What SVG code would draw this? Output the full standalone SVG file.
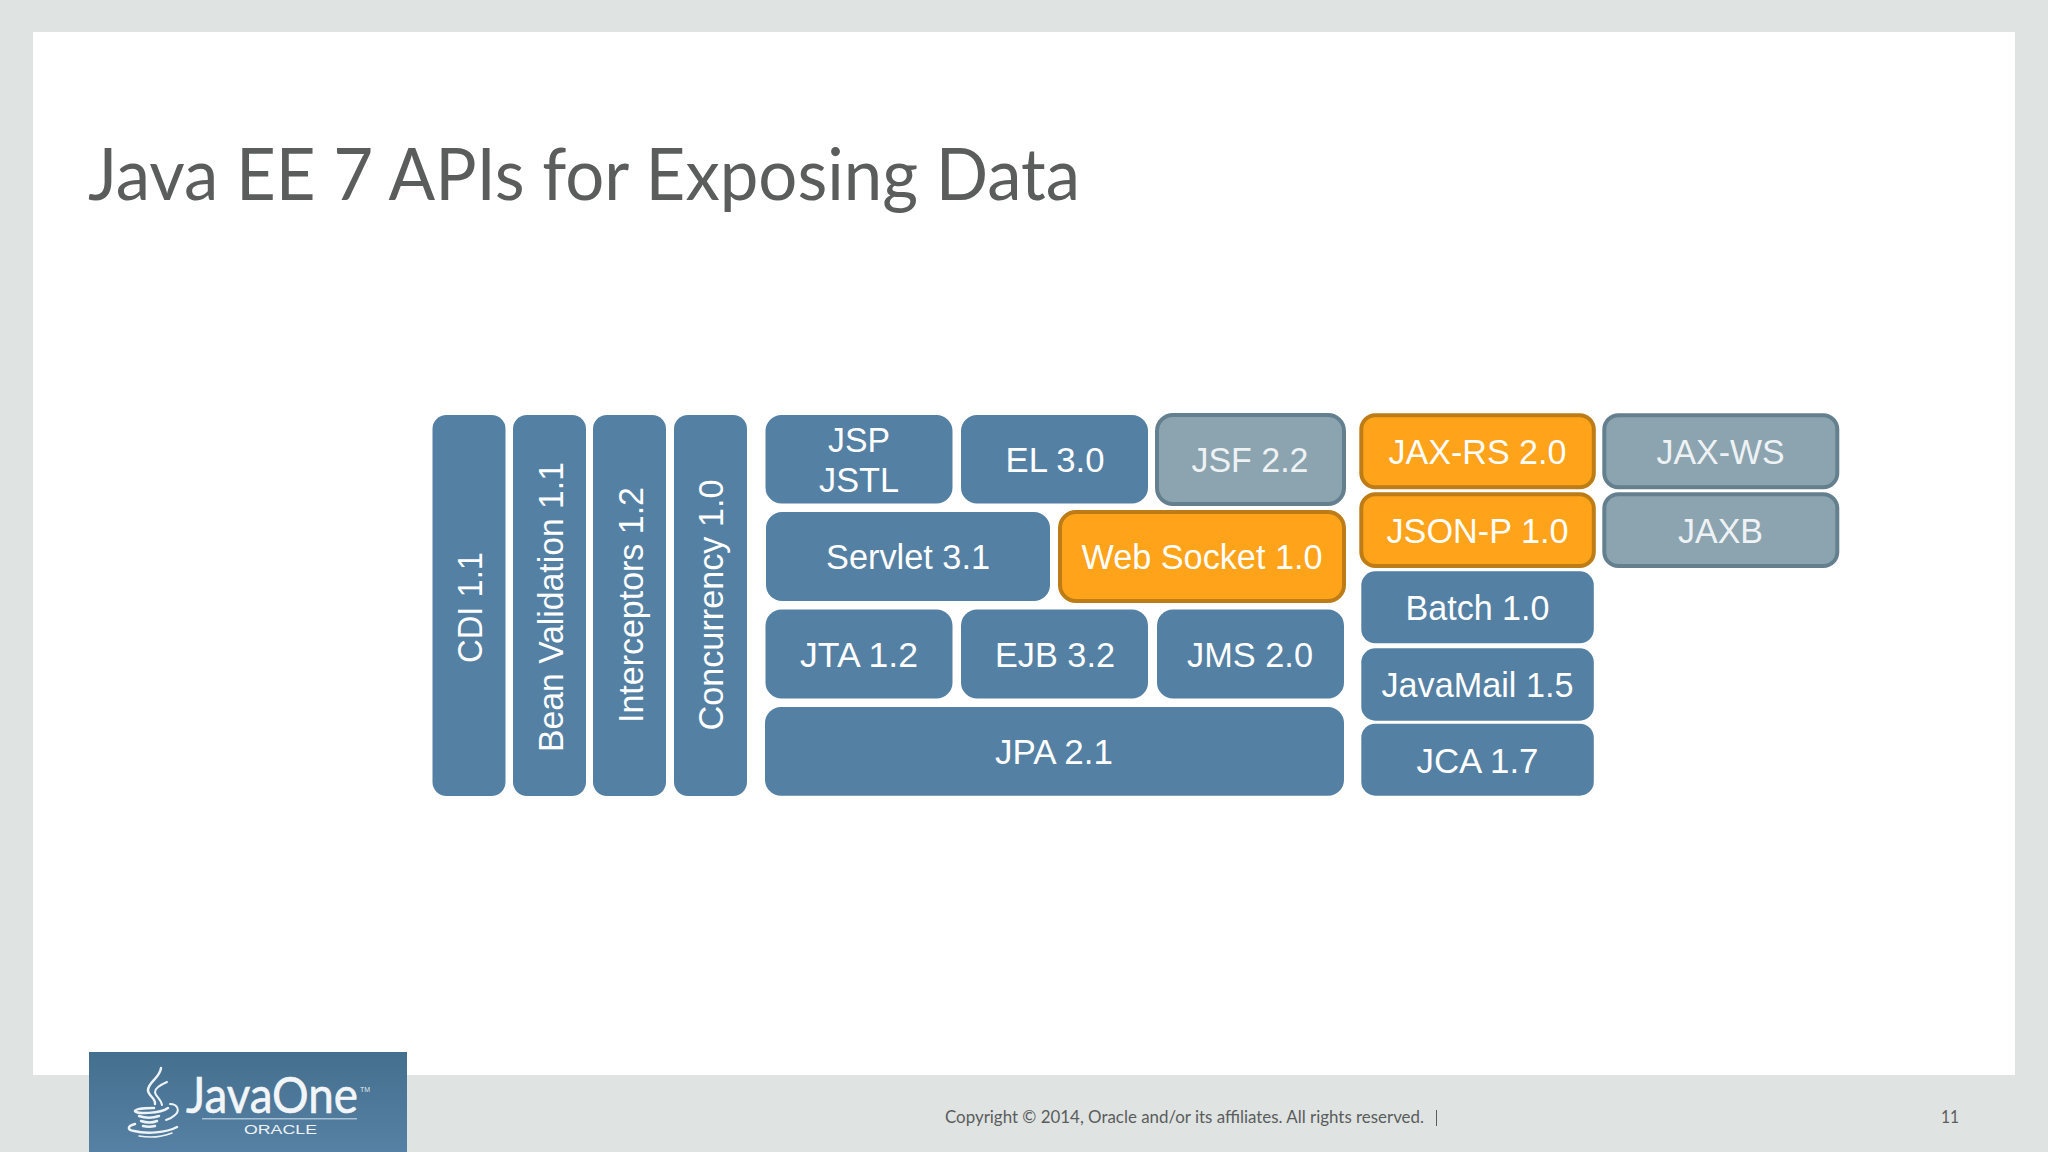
<svg xmlns="http://www.w3.org/2000/svg" width="2048" height="1152" viewBox="0 0 2048 1152">
<style>
.n{fill:#5480a3}
.o{fill:#ffa31a;stroke:#bd7c16;stroke-width:4}
.g{fill:#8ba4b0;stroke:#64808f;stroke-width:4}
.t{font-family:"Liberation Sans",Arial,sans-serif;font-size:35px;fill:#fff;text-anchor:middle}
.gt{fill:#eef2f4}
.c{font-family:Lato,"Open Sans",sans-serif;fill:#5a5d5c}
</style>
<defs><linearGradient id="lg" x1="0" y1="0" x2="0" y2="1"><stop offset="0" stop-color="#456f8e"/><stop offset="1" stop-color="#5681a4"/></linearGradient></defs>
<rect width="2048" height="1152" fill="#dfe3e2"/>
<rect x="33" y="32" width="1982" height="1043" fill="#fff"/>
<text class="c" x="88" y="200" font-size="71" textLength="992" lengthAdjust="spacingAndGlyphs">Java EE 7 APIs for Exposing Data</text>
<g id="cdi"><rect class="n" x="432.5" y="415" width="73" height="381" rx="14"/><text class="t" transform="translate(482 607.5) rotate(-90)" textLength="111" lengthAdjust="spacingAndGlyphs">CDI 1.1</text></g>
<g id="bean"><rect class="n" x="513" y="415" width="73" height="381" rx="14"/><text class="t" transform="translate(562.5 607) rotate(-90)" textLength="290" lengthAdjust="spacingAndGlyphs">Bean Validation 1.1</text></g>
<g id="interceptors"><rect class="n" x="593" y="415" width="73" height="381" rx="14"/><text class="t" transform="translate(642.5 605) rotate(-90)" textLength="236" lengthAdjust="spacingAndGlyphs">Interceptors 1.2</text></g>
<g id="concurrency"><rect class="n" x="674" y="415" width="73" height="381" rx="14"/><text class="t" transform="translate(723 605) rotate(-90)" textLength="251" lengthAdjust="spacingAndGlyphs">Concurrency 1.0</text></g>
<g id="jsp"><rect class="n" x="765.5" y="415" width="187" height="88.5" rx="16"/><text class="t" x="859" y="451.7" textLength="62" lengthAdjust="spacingAndGlyphs">JSP</text><text class="t" x="859" y="492.3" textLength="80" lengthAdjust="spacingAndGlyphs">JSTL</text></g>
<g id="el"><rect class="n" x="961" y="415" width="187" height="88.5" rx="16"/><text class="t" x="1055" y="471.7" textLength="99" lengthAdjust="spacingAndGlyphs">EL 3.0</text></g>
<g id="jsf"><rect class="g" x="1157" y="415" width="187" height="89" rx="16"/><text class="t gt" x="1250" y="471.7" textLength="117" lengthAdjust="spacingAndGlyphs">JSF 2.2</text></g>
<g id="servlet"><rect class="n" x="766" y="512" width="284" height="89" rx="16"/><text class="t" x="908" y="569.3" textLength="164" lengthAdjust="spacingAndGlyphs">Servlet 3.1</text></g>
<g id="websocket"><rect class="o" x="1060" y="512" width="284" height="89" rx="16"/><text class="t" x="1202" y="569.3" textLength="241" lengthAdjust="spacingAndGlyphs">Web Socket 1.0</text></g>
<g id="jta"><rect class="n" x="765.5" y="609.5" width="187" height="89" rx="16"/><text class="t" x="859" y="666.7" textLength="118" lengthAdjust="spacingAndGlyphs">JTA 1.2</text></g>
<g id="ejb"><rect class="n" x="961" y="609.5" width="187" height="89" rx="16"/><text class="t" x="1055" y="666.7" textLength="120" lengthAdjust="spacingAndGlyphs">EJB 3.2</text></g>
<g id="jms"><rect class="n" x="1157" y="609.5" width="187" height="89" rx="16"/><text class="t" x="1250" y="666.7" textLength="126" lengthAdjust="spacingAndGlyphs">JMS 2.0</text></g>
<g id="jpa"><rect class="n" x="765" y="707" width="579" height="88.7" rx="16"/><text class="t" x="1054" y="764" textLength="118" lengthAdjust="spacingAndGlyphs">JPA 2.1</text></g>
<g id="jaxrs"><rect class="o" x="1361.3" y="415.3" width="232.5" height="72" rx="14"/><text class="t" x="1477.5" y="464" textLength="178" lengthAdjust="spacingAndGlyphs">JAX-RS 2.0</text></g>
<g id="jsonp"><rect class="o" x="1361.3" y="494.3" width="232.5" height="71.7" rx="14"/><text class="t" x="1477.5" y="543" textLength="182" lengthAdjust="spacingAndGlyphs">JSON-P 1.0</text></g>
<g id="batch"><rect class="n" x="1361.3" y="571.3" width="232.5" height="72" rx="14"/><text class="t" x="1477.5" y="619.7" textLength="144" lengthAdjust="spacingAndGlyphs">Batch 1.0</text></g>
<g id="javamail"><rect class="n" x="1361.3" y="648.3" width="232.5" height="72.4" rx="14"/><text class="t" x="1477.5" y="697.3" textLength="192" lengthAdjust="spacingAndGlyphs">JavaMail 1.5</text></g>
<g id="jca"><rect class="n" x="1361.3" y="723.7" width="232.5" height="72" rx="14"/><text class="t" x="1477.5" y="772.7" textLength="122" lengthAdjust="spacingAndGlyphs">JCA 1.7</text></g>
<g id="jaxws"><rect class="g" x="1604.3" y="415.3" width="233" height="72" rx="14"/><text class="t gt" x="1720.5" y="464" textLength="128" lengthAdjust="spacingAndGlyphs">JAX-WS</text></g>
<g id="jaxb"><rect class="g" x="1604.3" y="494.3" width="233" height="71.7" rx="14"/><text class="t gt" x="1720.5" y="543" textLength="85" lengthAdjust="spacingAndGlyphs">JAXB</text></g>
<g id="logo">
<rect x="89" y="1052" width="318" height="100" fill="url(#lg)"/>
<g fill="none" stroke="#eef3f6" stroke-linecap="round">
<path d="M161 1068C160 1078 148 1082 148 1090C148 1096 156 1098 155 1104" stroke-width="2.5"/>
<path d="M167 1082C160 1085 155 1088 155 1092C155 1096 161 1099 162 1105" stroke-width="2"/>
<path d="M154 1108C144 1108 135 1109 135 1111C136 1114 160 1114 168 1108" stroke-width="2.5"/>
<path d="M170 1104C178 1104 180 1111 175 1115C172 1118 169 1119 166 1120" stroke-width="2"/>
<path d="M139 1116C145 1118 153 1118 159 1116M141 1121C147 1123 152 1123 157 1121M143 1126C147 1127 151 1127 155 1126" stroke-width="2.5"/>
<path d="M135 1124C127 1126 127 1130 134 1131C146 1134 166 1133 177 1127" stroke-width="2.5"/>
<path d="M139 1136C150 1138 162 1137 172 1133" stroke-width="1.5"/>
</g>
<text x="186" y="1113" font-family="Lato,'Open Sans',sans-serif" font-size="50" fill="#f2f6f8" stroke="#f2f6f8" stroke-width=".6" textLength="172" lengthAdjust="spacingAndGlyphs">JavaOne</text>
<text x="360" y="1092" font-family="'Liberation Sans',sans-serif" font-size="7" fill="#dfe8ee">TM</text>
<rect x="202" y="1118" width="155" height="1.5" fill="#a6c0d2"/>
<text x="244" y="1134" font-family="'Liberation Sans',sans-serif" font-size="12" fill="#eef3f6" textLength="73" lengthAdjust="spacingAndGlyphs">ORACLE</text>
</g>
<text class="c" x="945" y="1123" font-size="17" textLength="479" lengthAdjust="spacingAndGlyphs">Copyright © 2014, Oracle and/or its affiliates. All rights reserved.</text>
<rect x="1436" y="1110" width="1" height="16" fill="#5a5d5c"/>
<text class="c" x="1941" y="1123" font-size="17" textLength="18" lengthAdjust="spacingAndGlyphs">11</text>
<g id="connectors"/>
</svg>
